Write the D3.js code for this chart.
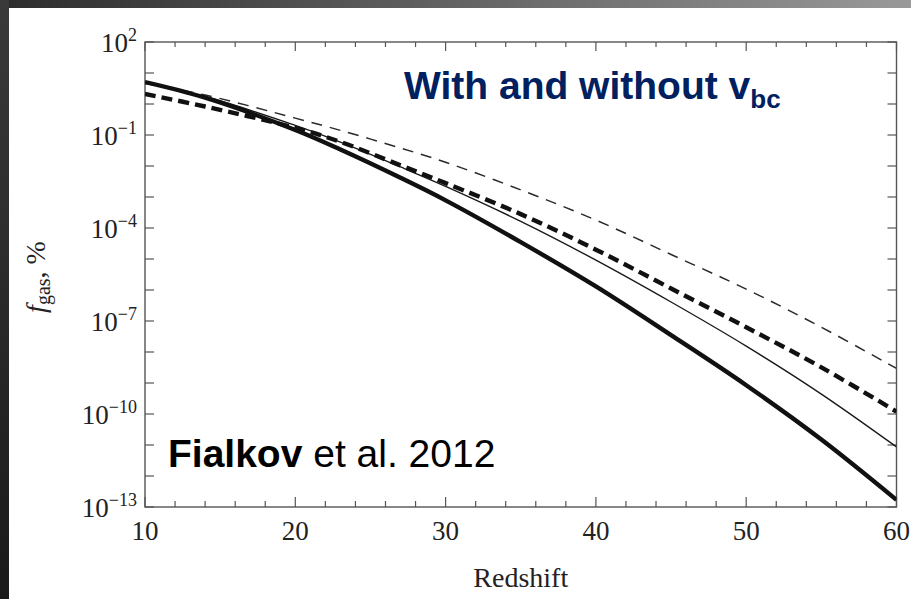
<!DOCTYPE html>
<meta charset="utf-8">
<script src="https://cdn.jsdelivr.net/npm/d3@7"></script>
<style>
    html, body { margin: 0; padding: 0; background: #222; }
    svg { display: block; }
</style>
<body>
<svg width="911" height="599"></svg>
</body>
<script>
    // redshift samples and gas fraction (%)
    var redshift = [10, 14, 20, 23, 27, 30, 35, 40, 45, 50, 55, 60];
    var thickSolid  = [5.1, 1.6, 0.145, 0.034, 4.17e-3, 7.8e-4, 3.5e-5, 1.3e-6, 3.5e-8, 8.5e-10, 1.5e-11, 1.7e-13];
    var thinSolid   = [4.8, 1.74, 0.204, 0.059, 9.3e-3, 2.2e-3, 1.64e-4, 9.2e-6, 4.1e-7, 1.55e-8, 4.4e-10, 8.7e-12];
    var thickDashed = [2.1, 0.83, 0.17, 0.06, 1.05e-2, 2.8e-3, 2.8e-4, 2.0e-5, 1.12e-6, 6.3e-8, 3.2e-9, 1.19e-10];
    var thinDashed  = [4.6, 1.95, 0.35, 0.141, 0.038, 0.0132, 1.7e-3, 1.8e-4, 1.4e-5, 1.07e-6, 6.3e-8, 2.95e-9];

    var xMajor = [10, 20, 30, 40, 50, 60];
    var yLabelExp = [2, -1, -4, -7, -10, -13];

    var svg = d3.select('svg');
    var W = 911, H = 599;
    // plot frame (note: "top" is reserved on window, so use p* names)
    var pLeft = 145, pRight = 896.5, pTop = 42, pBottom = 507;

    // slide background
    var defs = svg.append('defs');
    var gTop = defs.append('linearGradient').attr('id', 'gtop');
    gTop.append('stop').attr('offset', '0%').attr('stop-color', '#2c2c2c');
    gTop.append('stop').attr('offset', '100%').attr('stop-color', '#999');
    var gLeft = defs.append('linearGradient').attr('id', 'gleft')
        .attr('x1', 0).attr('y1', 0).attr('x2', 0).attr('y2', 1);
    gLeft.append('stop').attr('offset', '0%').attr('stop-color', '#3a3a3a');
    gLeft.append('stop').attr('offset', '100%').attr('stop-color', '#1a1a1a');
    defs.append('clipPath').attr('id', 'plotclip').append('rect')
        .attr('x', pLeft).attr('y', pTop).attr('width', pRight - pLeft).attr('height', pBottom - pTop);

    svg.append('rect').attr('width', W).attr('height', H).attr('fill', '#fff');
    svg.append('rect').attr('width', W).attr('height', 8).attr('fill', 'url(#gtop)');
    svg.append('rect').attr('width', 9).attr('height', H).attr('fill', 'url(#gleft)');

    var x = d3.scaleLinear().domain([10, 60]).range([pLeft, pRight]);
    var y = d3.scaleLog().domain([1e-13, 1e2]).range([pBottom, pTop]);

    var axisClr = '#555', txtClr = '#222';
    var ax = svg.append('g');

    // frame
    ax.append('rect')
        .attr('x', pLeft).attr('y', pTop).attr('width', pRight - pLeft).attr('height', pBottom - pTop)
        .attr('fill', 'none').attr('stroke', axisClr).attr('stroke-width', 1.4);

    // x ticks (bottom + top, inward)
    var xTicks = d3.range(10, 61, 2);
    ax.selectAll('.xb').data(xTicks).enter().append('line')
        .attr('x1', function (d) { return x(d); }).attr('x2', function (d) { return x(d); })
        .attr('y1', pBottom)
        .attr('y2', function (d) { return pBottom - (d % 10 == 0 ? 10 : 6); })
        .attr('stroke', axisClr).attr('stroke-width', 1.2);
    ax.selectAll('.xt').data(xTicks).enter().append('line')
        .attr('x1', function (d) { return x(d); }).attr('x2', function (d) { return x(d); })
        .attr('y1', pTop)
        .attr('y2', function (d) { return pTop + (d % 10 == 0 ? 9 : 5); })
        .attr('stroke', axisClr).attr('stroke-width', 1.2);

    // y ticks every decade, left + right
    var yTicks = d3.range(-13, 3).map(function (e) { return Math.pow(10, e); });
    ax.selectAll('.yl').data(yTicks).enter().append('line')
        .attr('x1', pLeft).attr('x2', pLeft + 9)
        .attr('y1', function (d) { return y(d); }).attr('y2', function (d) { return y(d); })
        .attr('stroke', axisClr).attr('stroke-width', 1.2);
    ax.selectAll('.yr').data(yTicks).enter().append('line')
        .attr('x1', pRight).attr('x2', pRight - 9)
        .attr('y1', function (d) { return y(d); }).attr('y2', function (d) { return y(d); })
        .attr('stroke', axisClr).attr('stroke-width', 1.2);

    // x labels
    ax.selectAll('.xlab').data(xMajor).enter().append('text')
        .attr('x', function (d) { return x(d); })
        .attr('y', 540)
        .attr('text-anchor', 'middle')
        .style('font', '27px "Liberation Serif", serif')
        .style('fill', txtClr)
        .text(function (d) { return d; });

    // y labels: 10^n
    var yl = ax.selectAll('.ylab').data(yLabelExp).enter().append('text')
        .attr('x', 137)
        .attr('y', function (d) { return y(Math.pow(10, d)) + 10; })
        .attr('text-anchor', 'end')
        .style('font', '27px "Liberation Serif", serif')
        .style('fill', txtClr);
    yl.append('tspan').text('10');
    yl.append('tspan')
        .attr('dy', -11)
        .style('font-size', '18px')
        .text(function (d) { return d < 0 ? '\u2212' + (-d) : d; });

    // axis titles
    svg.append('text')
        .attr('x', (pLeft + pRight) / 2).attr('y', 587)
        .attr('text-anchor', 'middle')
        .style('font', '28px "Liberation Serif", serif')
        .style('fill', txtClr)
        .text('Redshift');

    var yt = svg.append('text')
        .attr('transform', 'translate(45,277) rotate(-90)')
        .attr('text-anchor', 'middle')
        .style('font', '28px "Liberation Serif", serif')
        .style('fill', txtClr);
    yt.append('tspan').style('font-style', 'italic').text('f');
    yt.append('tspan').attr('dy', 5).style('font-size', '20px').text('gas');
    yt.append('tspan').attr('dy', -5).text(', %');

    // curves
    var line = d3.line()
        .x(function (d) { return x(d[0]); })
        .y(function (d) { return y(d[1]); })
        .curve(d3.curveCatmullRom.alpha(0.5));

    var series = [
        { vals: thinDashed,  width: 1.5, dash: '11,8', color: '#2a2a2a' },
        { vals: thinSolid,   width: 1.4, dash: null,   color: '#1a1a1a' },
        { vals: thickDashed, width: 4.4, dash: '11,6', color: '#111' },
        { vals: thickSolid,  width: 4.4, dash: null,   color: '#111' }
    ];

    var curves = svg.append('g').attr('clip-path', 'url(#plotclip)');
    curves.selectAll('path').data(series).enter().append('path')
        .attr('d', function (s) { return line(d3.zip(redshift, s.vals)); })
        .attr('fill', 'none')
        .attr('stroke', function (s) { return s.color; })
        .attr('stroke-width', function (s) { return s.width; })
        .attr('stroke-dasharray', function (s) { return s.dash; });

    // annotations
    var t1 = svg.append('text')
        .attr('x', 404).attr('y', 99)
        .style('font', 'bold 39px "Liberation Sans", Arial, sans-serif')
        .style('fill', '#002060');
    t1.append('tspan').text('With and without v');
    t1.append('tspan').attr('dy', 9).style('font-size', '26px').text('bc');

    var t2 = svg.append('text')
        .attr('x', 168).attr('y', 467)
        .style('font', '39px "Liberation Sans", Arial, sans-serif')
        .style('fill', '#000');
    t2.append('tspan').style('font-weight', 'bold').text('Fialkov');
    t2.append('tspan').text(' et al. 2012');
</script>
